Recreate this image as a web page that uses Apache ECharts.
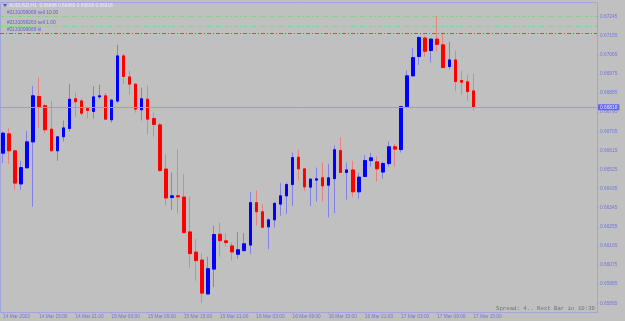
<!DOCTYPE html>
<html><head><meta charset="utf-8">
<script src="https://cdn.jsdelivr.net/npm/echarts@6/dist/echarts.min.js"></script>
<style>html,body{margin:0;padding:0;background:#c0c0c0}#c{width:625px;height:321px}</style>
</head><body><div id="c"></div>
<script>
// ---- data (AUDUSD H1) ----
const tickLabels = ["14 Mar 2023","14 Mar 15:00","14 Mar 21:00","15 Mar 03:00","15 Mar 09:00","15 Mar 15:00","15 Mar 21:00","16 Mar 03:00","16 Mar 09:00","16 Mar 15:00","16 Mar 21:00","17 Mar 03:00","17 Mar 09:00","17 Mar 15:00"];
const open = [0.66602,0.66693,0.66613,0.66457,0.66533,0.66655,0.66869,0.66825,0.66715,0.66613,
0.66679,0.66718,0.66858,0.66848,0.66812,0.66798,0.66867,0.66872,0.66759,0.66847,
0.67060,0.66961,0.66927,0.66806,0.66856,0.66765,0.66735,0.66527,0.66393,0.66401,
0.66395,0.66231,0.66136,0.66099,0.65939,0.66056,0.66220,0.66189,0.66165,0.66126,
0.66143,0.66169,0.66369,0.66326,0.66255,0.66288,0.66362,0.66401,0.66454,0.66583,
0.66528,0.66442,0.66475,0.66486,0.66451,0.66482,0.66614,0.66511,0.66523,0.66420,
0.66492,0.66567,0.66561,0.66513,0.66553,0.66632,0.66619,0.66821,0.66966,0.67057,
0.67144,0.67085,0.67139,0.67112,0.67010,0.67041,0.66944,0.66938,0.66895];
const close = [0.66696,0.66613,0.66461,0.66534,0.66655,0.66872,0.66821,0.66712,0.66613,0.66679,
0.66721,0.66856,0.66844,0.66790,0.66803,0.66867,0.66872,0.66762,0.66852,0.67060,
0.66963,0.66927,0.66809,0.66858,0.66762,0.66737,0.66520,0.66391,0.66401,0.66396,
0.66228,0.66129,0.66096,0.65943,0.66058,0.66219,0.66190,0.66181,0.66137,0.66147,
0.66175,0.66369,0.66326,0.66253,0.66288,0.66366,0.66401,0.66454,0.66581,0.66528,
0.66443,0.66480,0.66481,0.66448,0.66486,0.66618,0.66511,0.66523,0.66420,0.66489,
0.66567,0.66580,0.66528,0.66553,0.66632,0.66621,0.66821,0.66966,0.67052,0.67146,
0.67082,0.67139,0.67114,0.67005,0.67041,0.66939,0.66936,0.66892,0.66818];
const high = [0.66704,0.66720,0.66613,0.66566,0.66707,0.66919,0.66960,0.66834,0.66848,0.66679,
0.66756,0.66928,0.66887,0.66858,0.66821,0.66918,0.66924,0.66885,0.66856,0.67112,
0.67070,0.66990,0.66927,0.66911,0.66919,0.66793,0.66746,0.66597,0.66511,0.66621,
0.66504,0.66398,0.66198,0.66131,0.66115,0.66260,0.66275,0.66225,0.66181,0.66231,
0.66225,0.66418,0.66426,0.66363,0.66294,0.66370,0.66461,0.66464,0.66605,0.66618,
0.66532,0.66482,0.66534,0.66558,0.66552,0.66638,0.66677,0.66558,0.66566,0.66511,
0.66593,0.66602,0.66586,0.66562,0.66657,0.66646,0.66825,0.66991,0.67097,0.67154,
0.67154,0.67142,0.67249,0.67170,0.67126,0.67084,0.66988,0.66972,0.66977];
const low = [0.66555,0.66552,0.66429,0.66429,0.66533,0.66350,0.66720,0.66696,0.66610,0.66566,
0.66657,0.66704,0.66772,0.66778,0.66765,0.66765,0.66856,0.66759,0.66746,0.66838,
0.66928,0.66877,0.66793,0.66756,0.66691,0.66680,0.66514,0.66358,0.66335,0.66319,
0.66225,0.66062,0.66002,0.65896,0.65935,0.65971,0.66115,0.66162,0.66096,0.66104,
0.66140,0.66128,0.66260,0.66247,0.66150,0.66252,0.66307,0.66316,0.66354,0.66473,
0.66424,0.66354,0.66374,0.66374,0.66299,0.66319,0.66508,0.66382,0.66395,0.66388,
0.66489,0.66539,0.66467,0.66482,0.66539,0.66539,0.66605,0.66812,0.66962,0.67018,
0.67057,0.67029,0.67081,0.67002,0.66998,0.66894,0.66877,0.66848,0.66803];
const yTicks = [0.65895,0.65985,0.66075,0.66165,0.66255,0.66345,0.66435,0.66525,0.66615,0.66705,0.66795,0.66885,0.66975,0.67065,0.67155,0.67245];
const orderLevels = [0.67247, 0.67201, 0.67168];
const orderNames = ["#2131099069 sell 10.00", "#2131099263 sell 1.00", "#2131099069 sl"];
const lastPrice = 0.66818;
const headerText = "AUDUSD,H1  0.66898 0.66980 0.66808 0.66818";
const spreadText = "Spread: 4.. Next Bar in 10:39";

// ---- build ----
const N = open.length, TOTAL = 99;
const categories = [];
for (let i = 0; i < TOTAL; i++) {
  const h = 9 + i, d = 14 + Math.floor(h / 24), hh = h % 24;
  categories.push(d + ' Mar ' + String(hh).padStart(2, '0') + ':00');
}
const showIdx = i => i % 6 === 0 && i < N;
const fullData = open.map((o, i) => [o, close[i], low[i], high[i]]);
const bodyData = open.map((o, i) => [o, close[i], Math.min(o, close[i]), Math.max(o, close[i])]);

const AX = '#a4a4dc', TXT = '#7474dc', FONT = 'Liberation Sans';
const orderLine = (v, name, color) => ({
  yAxis: v,
  lineStyle: { color: color, type: [4, 2, 1, 2], width: 1 },
  label: { show: true, position: 'insideStartTop', formatter: name, color: '#6060c8',
           fontFamily: FONT, fontSize: 4.8, distance: [7, 0.5] }
});

const chart = echarts.init(document.getElementById('c'), null, { renderer: 'canvas' });
chart.setOption({
  animation: false,
  backgroundColor: '#c0c0c0',
  grid: { left: -2.025, right: 28, top: 3, bottom: 9 },
  xAxis: {
    type: 'category', data: categories, boundaryGap: true,
    axisLine: { lineStyle: { color: AX, width: 1 } },
    axisTick: { show: true, alignWithLabel: true, interval: (i) => showIdx(i), length: 2, lineStyle: { color: AX } },
    axisLabel: { interval: (i) => showIdx(i), formatter: (v, i) => tickLabels[i / 6], align: 'left',
                 margin: 2, color: TXT, fontFamily: FONT, fontSize: 4.8 },
    splitLine: { show: false }
  },
  yAxis: {
    type: 'value', position: 'right', min: 0.65854, max: 0.67309, scale: true,
    axisLine: { show: true, lineStyle: { color: AX, width: 1 } },
    axisTick: { show: true, length: 2, customValues: yTicks, lineStyle: { color: AX } },
    axisLabel: { customValues: yTicks, formatter: v => v.toFixed(5), margin: 3, color: TXT,
                 fontFamily: FONT, fontSize: 4.8 },
    splitLine: { show: false }
  },
  series: [
    {
      type: 'line', name: 'levels', data: [], silent: true,
      markLine: {
        symbol: 'none', silent: true, animation: false, precision: 5,
        data: [
          { yAxis: lastPrice, lineStyle: { color: '#a0a0b4', type: 'solid', width: 1 },
            label: { show: true, position: 'end', distance: 1, formatter: lastPrice.toFixed(5),
                     backgroundColor: '#6464f0', color: '#e8e8ff', padding: [1, 2, 0, 2],
                     fontFamily: FONT, fontSize: 4.8 } },
          orderLine(orderLevels[0], orderNames[0], '#7ed67e'),
          orderLine(orderLevels[1], orderNames[1], '#7ed67e'),
          orderLine(orderLevels[2], orderNames[2], '#ec4040')
        ]
      }
    },
    {
      type: 'candlestick', name: 'wick', data: fullData, barWidth: 3,
      itemStyle: { color: '#8080e8', color0: '#e88080', borderColor: '#8080e8', borderColor0: '#e88080', borderWidth: 1 }
    },
    {
      type: 'candlestick', name: 'body', data: bodyData, barWidth: 3,
      itemStyle: { color: '#0000ff', color0: '#ff0000', borderColor: '#0000ff', borderColor0: '#ff0000', borderWidth: 1 }
    }
  ],
  graphic: [
    { type: 'line', shape: { x1: 0, y1: 2.5, x2: 597, y2: 2.5 }, style: { stroke: AX, lineWidth: 1 }, silent: true },
    { type: 'line', shape: { x1: 0.5, y1: 2.5, x2: 0.5, y2: 312 }, style: { stroke: AX, lineWidth: 1 }, silent: true },
    { type: 'polygon', shape: { points: [[3, 4], [7, 4], [5, 7]] }, style: { fill: '#5050e0' }, silent: true },
    { type: 'text', left: 9, top: 3.5, style: { text: headerText, fill: '#ececff', font: '4.8px "Liberation Sans"' }, silent: true },
    { type: 'text', right: 30, top: 305, style: { text: spreadText, fill: '#707078', font: '5.7px "Liberation Mono"' }, silent: true }
  ]
});
</script></body></html>
